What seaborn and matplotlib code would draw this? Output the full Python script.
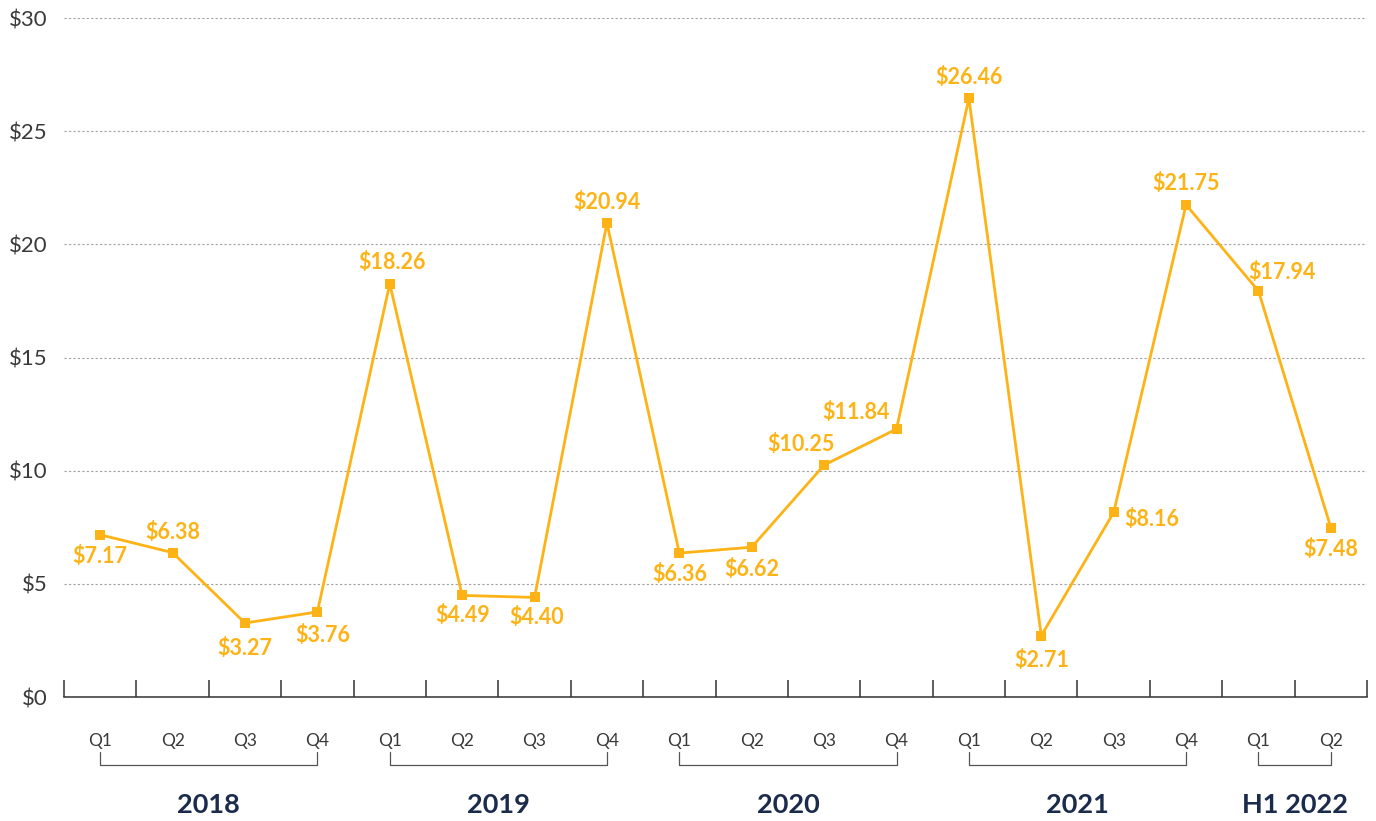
import numpy as np
import pandas as pd
import matplotlib
matplotlib.use("Agg")
import matplotlib.pyplot as plt
import matplotlib.transforms as mtransforms
import seaborn as sns

quarters = ["Q1", "Q2", "Q3", "Q4"] * 4 + ["Q1", "Q2"]
years = ["2018", "2019", "2020", "2021", "H1 2022"]
year_sizes = [4, 4, 4, 4, 2]
values = [7.17, 6.38, 3.27, 3.76, 18.26, 4.49, 4.40, 20.94, 6.36, 6.62,
          10.25, 11.84, 26.46, 2.71, 8.16, 21.75, 17.94, 7.48]

# label offsets in pixels (x, y) relative to each point
offsets = [(0, -22), (0, 20), (0, -25), (5, -24), (2, 21), (0, -20), (2, -20),
           (0, 21), (0, -21), (0, -22), (-23, 21), (-41, 17), (0, 21),
           (0, -25), (38, -7), (0, 21), (23, 19), (0, -22)]

orange = "#FDB316"
navy = "#1B2B4B"
grey_txt = "#3a3a3a"

sns.set_style("white")
plt.rcParams["font.family"] = ["Lato", "DejaVu Sans"]

df = pd.DataFrame({"idx": np.arange(len(values)), "value": values})

fig = plt.figure(figsize=(13.76, 8.21), dpi=100)
ax = fig.add_axes([0.0465, 0.151, 0.947, 0.827])

sns.lineplot(data=df, x="idx", y="value", ax=ax, color=orange, linewidth=2.0,
             marker="s", markersize=6.5, markeredgewidth=0)

for i, (v, off) in enumerate(zip(values, offsets)):
    ax.annotate(f"${v:.2f}", (i, v), xytext=off, textcoords="offset pixels",
                ha="center", va="center", color=orange, fontsize=15.5,
                fontweight="bold")

ax.set_xlim(-0.5, len(values) - 0.5)
ax.set_ylim(0, 30)
ax.set_yticks(range(0, 31, 5))
ax.set_yticklabels([f"${t}" for t in range(0, 31, 5)], fontsize=16, color=grey_txt)
ax.yaxis.grid(True, linestyle=(0, (2, 2)), color="#a0a0a0", linewidth=0.8)
ax.tick_params(axis="y", length=0, pad=12)

ax.set_xticks(np.arange(-0.5, len(values), 1))
ax.set_xticklabels([])
ax.set_xticks(np.arange(len(values)), minor=True)
ax.set_xticklabels(quarters, minor=True, fontsize=12.5, color=grey_txt)
ax.tick_params(axis="x", which="major", bottom=True, direction="in", length=12.5,
               width=1.1, color="#333333")
ax.tick_params(axis="x", which="minor", bottom=True, length=0, pad=26)
ax.set_xlabel("")
ax.set_ylabel("")

for s in ["left", "right", "top"]:
    ax.spines[s].set_visible(False)
ax.spines["bottom"].set_color("#333333")
ax.spines["bottom"].set_linewidth(1.1)

trans = mtransforms.blended_transform_factory(ax.transData, ax.transAxes)
start = 0
for year, n in zip(years, year_sizes):
    x0, x1 = start, start + n - 1
    ax.plot([x0, x0, x1, x1], [-0.081, -0.100, -0.100, -0.081], transform=trans,
            clip_on=False, color="#555555", linewidth=0.9)
    ax.text((x0 + x1) / 2, -0.159, year, transform=trans, ha="center",
            va="center", fontsize=19.5, fontweight="bold", color=navy)
    start += n

fig.savefig("out.png", dpi=100)
